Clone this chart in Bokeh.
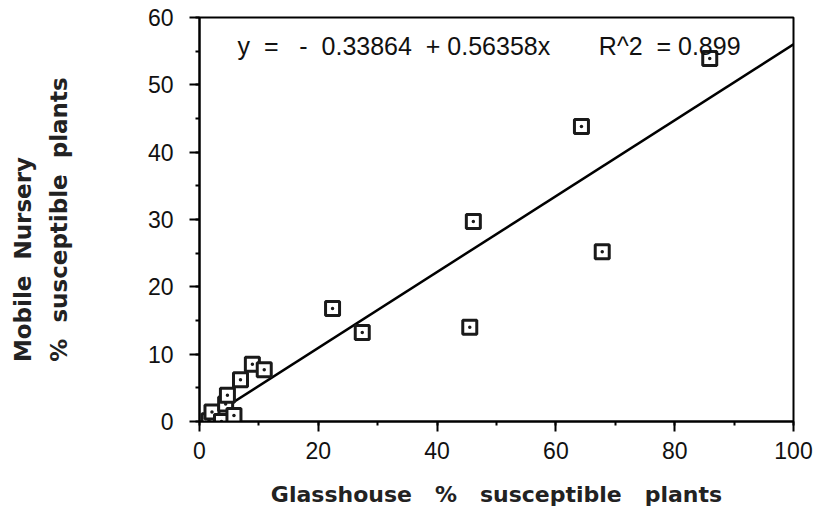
import math
from bokeh.plotting import figure
from bokeh.models import Label, SingleIntervalTicker, Range1d
from bokeh.embed import file_html
from bokeh.resources import INLINE

# data
glasshouse = [1.6, 2.1, 3.7, 4.4, 4.7, 5.8, 6.9, 8.9, 10.9, 22.4, 27.4, 45.5, 46.1, 64.3, 67.8, 85.9]
mobile = [0.1, 1.4, 0.0, 2.6, 3.9, 0.9, 6.2, 8.5, 7.7, 16.8, 13.2, 14.0, 29.7, 43.8, 25.2, 53.9]
intercept = -0.33864
slope = 0.56358
r2 = 0.899
fit_x = [0, 100]
fit_y = [intercept + slope * v for v in fit_x]


def sp(n):
    return "\u00a0" * n


p = figure(width=819, height=512, output_backend="svg", toolbar_location=None,
           x_range=Range1d(0, 100), y_range=Range1d(0, 60),
           min_border_left=199, min_border_right=26, min_border_top=17, min_border_bottom=91)
p.grid.visible = False
p.outline_line_color = "black"
p.outline_line_width = 2
p.background_fill_color = "white"
p.border_fill_color = "white"

p.xaxis.ticker = SingleIntervalTicker(interval=20, num_minor_ticks=2)
p.yaxis.ticker = SingleIntervalTicker(interval=10, num_minor_ticks=2)
for ax in (p.xaxis, p.yaxis):
    ax.axis_line_width = 2
    ax.axis_line_color = "black"
    ax.major_tick_line_width = 2
    ax.minor_tick_line_width = 2
    ax.major_tick_in = 0
    ax.major_tick_out = 10
    ax.minor_tick_in = 0
    ax.minor_tick_out = 4
    ax.major_label_text_font = "Liberation Sans"
    ax.major_label_text_font_size = "23px"
    ax.major_label_text_color = "#111111"
    ax.major_label_text_font_style = "normal"
    ax.axis_label_text_font = "DejaVu Sans"
    ax.axis_label_text_font_style = "bold"
    ax.axis_label_text_color = "#222222"

p.xaxis.major_label_standoff = 10
p.yaxis.major_label_standoff = 16
p.xaxis.axis_label = "Glasshouse" + sp(2) + " %" + sp(2) + " susceptible" + sp(2) + " plants"
p.xaxis.axis_label_text_font_size = "22px"
p.xaxis.axis_label_standoff = 20

line1 = "Mobile" + sp(2) + "Nursery"
line2 = "%" + sp(2) + "susceptible" + sp(2) + "plants"
p.yaxis.axis_label = line1 + sp(10) + "\n" + line2
p.yaxis.axis_label_text_font_size = "23px"
p.yaxis.axis_label_text_line_height = 1.4
p.yaxis.axis_label_standoff = 73

p.line(fit_x, fit_y, line_color="black", line_width=2.5)
p.scatter(glasshouse, mobile, marker="square_dot", size=14, line_color="#1a1a1a",
          line_width=3, fill_color="white")

eq = ("y" + sp(2) + "=" + sp(3) + "-" + sp(2) + f"{intercept:.5f}".lstrip("-") + sp(2) + "+" + sp(1)
      + f"{slope:.5f}x" + sp(7) + "R^2" + sp(2) + "=" + sp(1) + f"{r2}")
p.add_layout(Label(x=6.4, y=55.8, text=eq,
                   text_font="Liberation Sans", text_font_size="25px",
                   text_baseline="middle", text_align="left", text_color="#111111"))

open("out.html", "w").write(file_html(p, INLINE))
